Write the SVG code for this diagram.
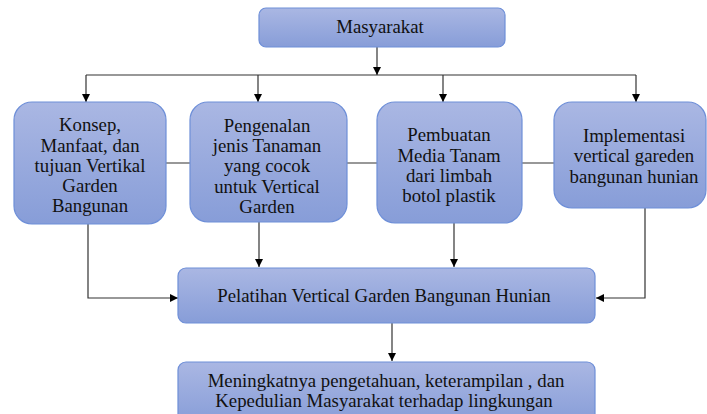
<svg xmlns="http://www.w3.org/2000/svg" width="707" height="414" viewBox="0 0 707 414">
<defs>
<linearGradient id="g" x1="0" y1="0" x2="0" y2="1">
<stop offset="0" stop-color="#aab7e3"/>
<stop offset="1" stop-color="#879dd8"/>
</linearGradient>
<marker id="a" viewBox="0 0 10 10" refX="10" refY="5" markerWidth="8" markerHeight="8" markerUnits="userSpaceOnUse" orient="auto">
<path d="M0,0 L10,5 L0,10 z" fill="#000"/>
</marker>
<style>
.b{fill:url(#g);stroke:#6e8fd8;stroke-width:1.2}
.t{font-size:18.8px;fill:#111;text-anchor:middle}
.c{fill:none;stroke:#333;stroke-width:1.2}
.ca{fill:none;stroke:#333;stroke-width:1.2;marker-end:url(#a)}
</style>
</defs>
<rect width="707" height="414" fill="#fff"/>
<g id="connectors">
<path class="ca" d="M377,47 V75"/>
<path class="c" d="M86,75 H636"/>
<path class="ca" d="M86,75 V102"/>
<path class="ca" d="M258,75 V102"/>
<path class="ca" d="M443,75 V102"/>
<path class="ca" d="M636,75 V102"/>
<path class="c" d="M166,163 H190 M347,163 H377 M522,163 H554"/>
<path class="ca" d="M88,224 V298 H178"/>
<path class="ca" d="M259,222 V267"/>
<path class="ca" d="M454,223 V267"/>
<path class="ca" d="M645,208 V298 H596"/>
<path class="ca" d="M392,323 V361"/>
</g>
<g font-family="Liberation Serif, Times New Roman, serif">
<g id="masyarakat">
<rect class="b" x="259" y="8" width="246" height="39" rx="7"/>
<text class="t" x="380" y="33">Masyarakat</text>
</g>
<g id="konsep">
<rect class="b" x="14" y="102" width="152" height="122" rx="18"/>
<text class="t" x="90" y="131">Konsep,</text>
<text class="t" x="90" y="151.5">Manfaat, dan</text>
<text class="t" x="90" y="172">tujuan Vertikal</text>
<text class="t" x="90" y="192">Garden</text>
<text class="t" x="90" y="212">Bangunan</text>
</g>
<g id="pengenalan">
<rect class="b" x="190" y="102" width="157" height="120" rx="18"/>
<text class="t" x="267" y="132">Pengenalan</text>
<text class="t" x="267" y="152">jenis Tanaman</text>
<text class="t" x="267" y="172">yang cocok</text>
<text class="t" x="267" y="193">untuk Vertical</text>
<text class="t" x="267" y="213">Garden</text>
</g>
<g id="pembuatan">
<rect class="b" x="377" y="102" width="145" height="121" rx="18"/>
<text class="t" x="449" y="141">Pembuatan</text>
<text class="t" x="449" y="162">Media Tanam</text>
<text class="t" x="449" y="182">dari limbah</text>
<text class="t" x="449" y="202">botol plastik</text>
</g>
<g id="implementasi">
<rect class="b" x="554" y="102" width="152" height="106" rx="18"/>
<text class="t" x="634" y="142">Implementasi</text>
<text class="t" x="634" y="162">vertical gareden</text>
<text class="t" x="634" y="183">bangunan hunian</text>
</g>
<g id="pelatihan">
<rect class="b" x="178" y="268" width="417" height="55" rx="8"/>
<text class="t" x="384" y="302">Pelatihan Vertical Garden Bangunan Hunian</text>
</g>
<g id="meningkatnya">
<rect class="b" x="178" y="362" width="417" height="62" rx="8"/>
<text class="t" x="386" y="387">Meningkatnya pengetahuan, keterampilan  , dan</text>
<text class="t" x="384" y="407">Kepedulian Masyarakat terhadap lingkungan</text>
</g>
</g>
</svg>
